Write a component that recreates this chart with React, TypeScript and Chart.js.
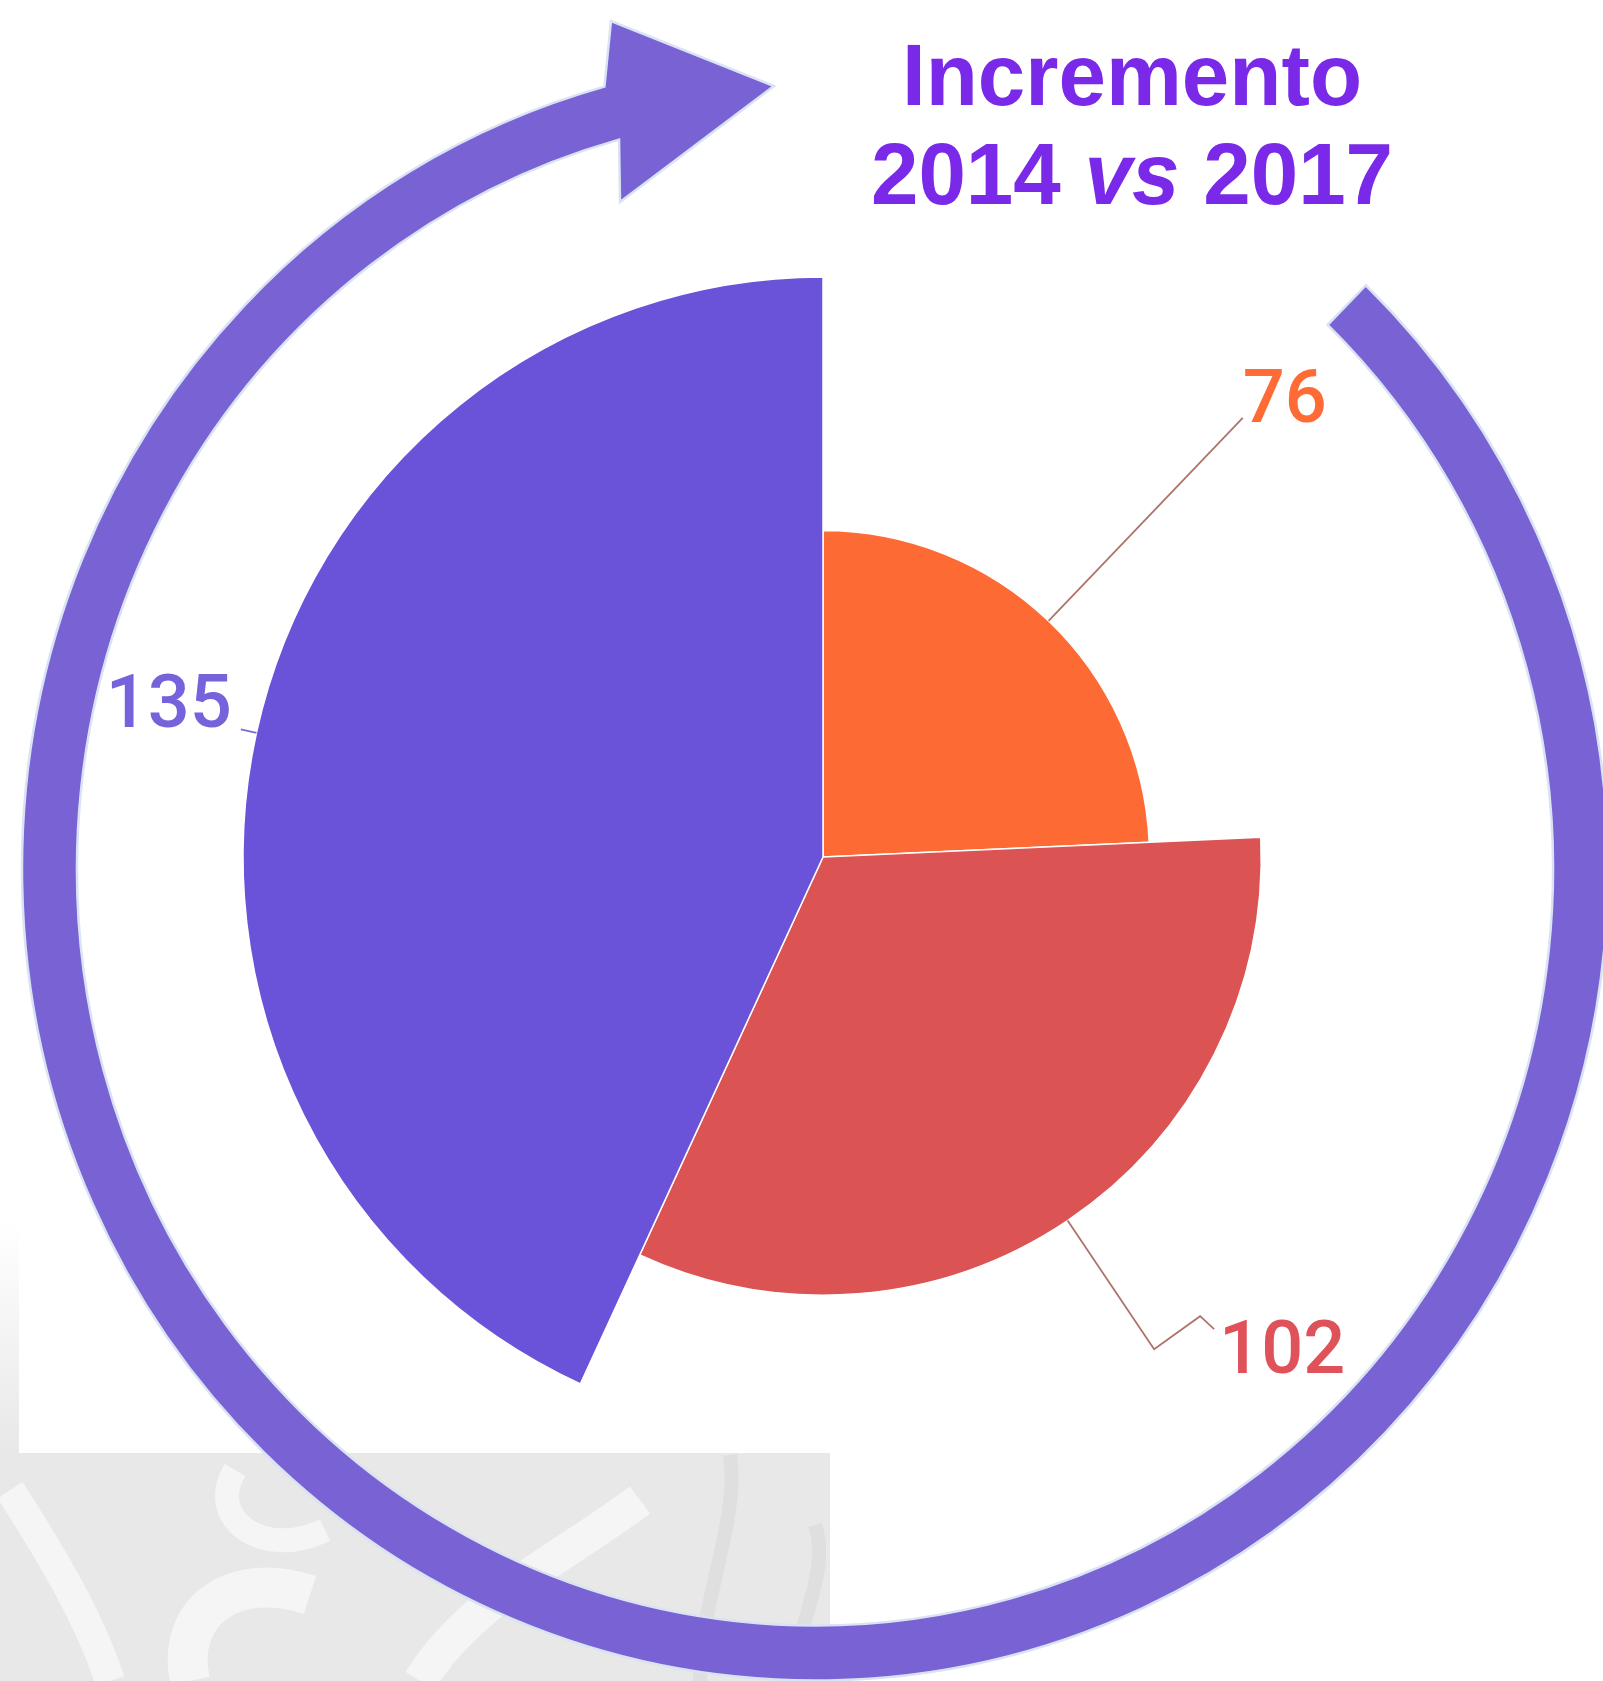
import React, { useEffect, useRef } from "react";
import { Chart, registerables } from "chart.js";

Chart.register(...registerables);

// ---- data ----
const categories = ["Serie 1", "Serie 2", "Serie 3"];
const values = [76, 102, 135];
const sliceColors = ["#fe6a34", "#dc5354", "#6a52d9"];
const labelColors = ["#ff6a35", "#e0525a", "#7762dc"];
const titleLine1 = "Incremento";
const titleYearA = "2014";
const titleVs = "vs";
const titleYearB = "2017";

const total = values.reduce((a, b) => a + b, 0);
const maxValue = Math.max(...values);

const W = 1603;
const H = 1681;

// leader line lengths (px) radially out from each slice edge
const leaderLen = [281, 155, 16];

const deg = (d: number) => (d * Math.PI) / 180;

const decorPlugin = {
  id: "decor",
  beforeDraw(chart: any) {
    const ctx = chart.ctx as CanvasRenderingContext2D;
    ctx.save();
    ctx.fillStyle = "#ffffff";
    ctx.fillRect(0, 0, W, H);

    // faint watermark area bottom-left
    ctx.fillStyle = "#e8e8e8";
    ctx.fillRect(0, 1453, 830, H - 1453);
    const g = ctx.createLinearGradient(0, 1222, 0, 1453);
    g.addColorStop(0, "rgba(232,232,232,0)");
    g.addColorStop(1, "rgba(232,232,232,1)");
    ctx.fillStyle = g;
    ctx.fillRect(0, 1222, 19, 231);
    // soft white swooshes
    ctx.strokeStyle = "rgba(255,255,255,0.55)";
    ctx.lineCap = "butt";
    ctx.lineWidth = 40;
    ctx.beginPath();
    ctx.moveTo(190, 1681);
    ctx.bezierCurveTo(175, 1610, 235, 1570, 310, 1595);
    ctx.stroke();
    ctx.lineWidth = 24;
    ctx.beginPath();
    ctx.moveTo(235, 1470);
    ctx.bezierCurveTo(205, 1520, 265, 1560, 325, 1530);
    ctx.stroke();
    ctx.lineWidth = 30;
    ctx.beginPath();
    ctx.moveTo(10, 1490);
    ctx.bezierCurveTo(55, 1560, 90, 1620, 110, 1681);
    ctx.stroke();
    ctx.lineWidth = 34;
    ctx.beginPath();
    ctx.moveTo(420, 1681);
    ctx.bezierCurveTo(470, 1600, 560, 1560, 640, 1500);
    ctx.stroke();
    // gray flame streaks
    ctx.strokeStyle = "rgba(222,222,222,0.9)";
    ctx.lineWidth = 14;
    ctx.beginPath();
    ctx.moveTo(700, 1681);
    ctx.bezierCurveTo(700, 1600, 740, 1520, 730, 1455);
    ctx.stroke();
    ctx.beginPath();
    ctx.moveTo(790, 1681);
    ctx.bezierCurveTo(800, 1620, 830, 1570, 815, 1525);
    ctx.stroke();

    // circular arrow ring
    const cx = 815;
    const cy = 869;
    const ao = 793, bo = 811.5, ai = 738, bi = 756.5;
    const t0 = deg(-46);
    const t1 = deg(254.6);
    ctx.beginPath();
    ctx.ellipse(cx, cy, ao, bo, 0, t0, t1, false);
    ctx.lineTo(611, 21);
    ctx.lineTo(774, 86);
    ctx.lineTo(620, 202);
    ctx.ellipse(cx, cy, ai, bi, 0, t1, t0, true);
    ctx.closePath();
    ctx.fillStyle = "#7862d4";
    ctx.fill();
    ctx.lineJoin = "miter";
    ctx.lineWidth = 2.5;
    ctx.strokeStyle = "#d9e3f3";
    ctx.stroke();
    ctx.restore();
  },
  afterDatasetsDraw(chart: any) {
    const ctx = chart.ctx as CanvasRenderingContext2D;
    const meta = chart.getDatasetMeta(0);
    ctx.save();
    ctx.font = "500 74px Roboto";
    ctx.textBaseline = "alphabetic";
    meta.data.forEach((el: any, i: number) => {
      const mid = (el.startAngle + el.endAngle) / 2;
      const dx = Math.cos(mid);
      const dy = Math.sin(mid);
      const sx = el.x + el.outerRadius * dx;
      const sy = el.y + el.outerRadius * dy;
      const ex = sx + leaderLen[i] * dx;
      const ey = sy + leaderLen[i] * dy;
      ctx.lineWidth = 1.8;
      ctx.strokeStyle = i === 2 ? "rgba(90,70,200,0.8)" : "rgba(160,90,80,0.85)";
      ctx.beginPath();
      ctx.moveTo(sx, sy);
      ctx.lineTo(ex, ey);
      let tx = ex;
      let ty = ey;
      if (i === 1) {
        ctx.lineTo(ex + 46, ey - 33);
        ctx.lineTo(ex + 60, ey - 20);
        tx = ex + 65;
        ty = ey + 24;
      } else if (i === 0) {
        tx = ex;
        ty = ey + 4;
      } else {
        tx = ex - 9;
        ty = ey - 2;
      }
      ctx.stroke();
      ctx.fillStyle = labelColors[i];
      ctx.textAlign = i === 2 ? "right" : "left";
      ctx.fillText(String(values[i]), tx, ty);
    });
    ctx.restore();
  },
};

export default function App() {
  const canvasRef = useRef<HTMLCanvasElement | null>(null);

  useEffect(() => {
    if (!canvasRef.current) return;
    const chart = new Chart(canvasRef.current, {
      type: "polarArea",
      data: {
        labels: categories,
        datasets: [
          {
            data: values,
            backgroundColor: sliceColors,
            borderColor: "#ffffff",
            borderWidth: 1.5,
            angle: (c: any) => (values[c.dataIndex] / total) * 360,
          } as any,
        ],
      },
      options: {
        responsive: false,
        animation: false,
        layout: { padding: { left: 243, right: 200, top: 277, bottom: 244 } },
        plugins: {
          legend: { display: false },
          tooltip: { enabled: false },
          title: { display: false },
        },
        scales: {
          r: {
            display: false,
            min: 0,
            max: maxValue,
            startAngle: 0,
            ticks: { display: false },
            grid: { display: false },
            angleLines: { display: false },
            pointLabels: { display: false },
          },
        },
      },
      plugins: [decorPlugin],
    });
    return () => chart.destroy();
  }, []);

  return (
    <div style={{ position: "absolute", left: 0, top: 0, width: W, height: H, overflow: "hidden" }}>
      <canvas ref={canvasRef} width={W} height={H} style={{ width: W, height: H, display: "block" }} />
      <div
        style={{
          position: "absolute",
          left: 782,
          top: 25,
          width: 700,
          textAlign: "center",
          fontFamily: "'Liberation Sans', Arial, sans-serif",
          fontWeight: "bold",
          fontSize: 88,
          lineHeight: "99px",
          color: "#7a29e8",
          transform: "scaleX(0.97)",
          transformOrigin: "center top",
          whiteSpace: "nowrap",
        }}
      >
        <div>{titleLine1}</div>
        <div>
          {titleYearA} <i>{titleVs}</i> {titleYearB}
        </div>
      </div>
    </div>
  );
}
